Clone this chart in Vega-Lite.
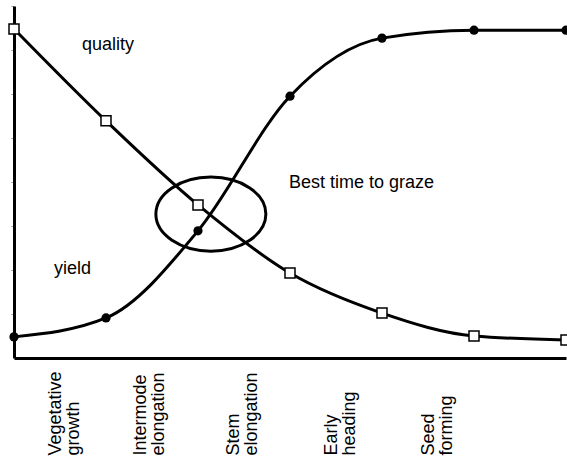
{
  "$schema": "https://vega.github.io/schema/vega-lite/v6.json",
  "width": 552,
  "height": 352,
  "autosize": {"type": "none"},
  "padding": {"left": 14, "top": 6, "right": 1, "bottom": 106},
  "background": "white",
  "config": {"view": {"stroke": null}, "font": "Liberation Sans"},
  "datasets": {
    "curves": [
      {"series": "quality", "stage": 0, "value": 7.48},
      {"series": "quality", "stage": 1, "value": 5.39},
      {"series": "quality", "stage": 2, "value": 3.48},
      {"series": "quality", "stage": 3, "value": 1.93},
      {"series": "quality", "stage": 4, "value": 1.02},
      {"series": "quality", "stage": 5, "value": 0.5},
      {"series": "quality", "stage": 6, "value": 0.41},
      {"series": "yield", "stage": 0, "value": 0.48},
      {"series": "yield", "stage": 1, "value": 0.91},
      {"series": "yield", "stage": 2, "value": 2.89},
      {"series": "yield", "stage": 3, "value": 5.95},
      {"series": "yield", "stage": 4, "value": 7.27},
      {"series": "yield", "stage": 5, "value": 7.45},
      {"series": "yield", "stage": 6, "value": 7.45}
    ],
    "notes": [
      {"label": "quality", "stage": 0.739, "value": 7.0},
      {"label": "yield", "stage": 0.435, "value": 1.909},
      {"label": "Best time to graze", "stage": 2.989, "value": 3.864}
    ],
    "ellipse": [
      {"stage": 2.14, "value": 3.27}
    ]
  },
  "layer": [
    {
      "data": {"name": "curves"},
      "mark": {"type": "line", "interpolate": "monotone", "color": "black", "strokeWidth": 3},
      "encoding": {
        "x": {
          "field": "stage", "type": "quantitative",
          "scale": {"domain": [0, 6], "nice": false, "zero": false},
          "axis": {
            "title": null, "grid": false, "ticks": false,
            "domainColor": "black", "domainWidth": 3,
            "values": [0.45, 1.38, 2.39, 3.45, 4.51],
            "labelExpr": "datum.value < 1 ? ['Vegetative','growth'] : datum.value < 2 ? ['Intermode','elongation'] : datum.value < 3 ? ['Stem','elongation'] : datum.value < 4 ? ['Early','heading'] : ['Seed','forming']",
            "labelAngle": -90, "labelAlign": "left", "labelBaseline": "middle",
            "labelPadding": 97, "labelFontSize": 18, "labelLineHeight": 18,
            "labelColor": "black", "labelFont": "Liberation Sans",
            "labelOverlap": false, "labelBound": false, "labelFlush": false
          }
        },
        "y": {
          "field": "value", "type": "quantitative",
          "scale": {"domain": [0, 8], "nice": false, "zero": false},
          "axis": {
            "title": null, "grid": false, "labels": false,
            "values": [1, 2, 3, 4, 5, 6, 7, 8],
            "ticks": true, "tickSize": 3, "tickColor": "#999999", "tickWidth": 1,
            "domainColor": "black", "domainWidth": 3
          }
        },
        "detail": {"field": "series"}
      }
    },
    {
      "data": {"name": "curves"},
      "transform": [{"filter": "datum.series === 'yield'"}],
      "mark": {"type": "point", "shape": "circle", "filled": true, "color": "black", "size": 85, "opacity": 1},
      "encoding": {
        "x": {"field": "stage", "type": "quantitative"},
        "y": {"field": "value", "type": "quantitative"}
      }
    },
    {
      "data": {"name": "curves"},
      "transform": [{"filter": "datum.series === 'quality'"}],
      "mark": {"type": "point", "shape": "square", "filled": true, "fill": "white", "stroke": "black", "strokeWidth": 1.5, "size": 100, "opacity": 1},
      "encoding": {
        "x": {"field": "stage", "type": "quantitative"},
        "y": {"field": "value", "type": "quantitative"}
      }
    },
    {
      "data": {"name": "ellipse"},
      "mark": {"type": "point", "shape": "M -1 0 A 1 0.673 0 1 0 1 0 A 1 0.673 0 1 0 -1 0 Z", "filled": false, "stroke": "black", "strokeWidth": 3, "size": 12100, "opacity": 1},
      "encoding": {
        "x": {"field": "stage", "type": "quantitative"},
        "y": {"field": "value", "type": "quantitative"}
      }
    },
    {
      "data": {"name": "notes"},
      "mark": {"type": "text", "align": "left", "baseline": "alphabetic", "fontSize": 18, "font": "Liberation Sans", "color": "black"},
      "encoding": {
        "x": {"field": "stage", "type": "quantitative"},
        "y": {"field": "value", "type": "quantitative"},
        "text": {"field": "label"}
      }
    }
  ]
}
